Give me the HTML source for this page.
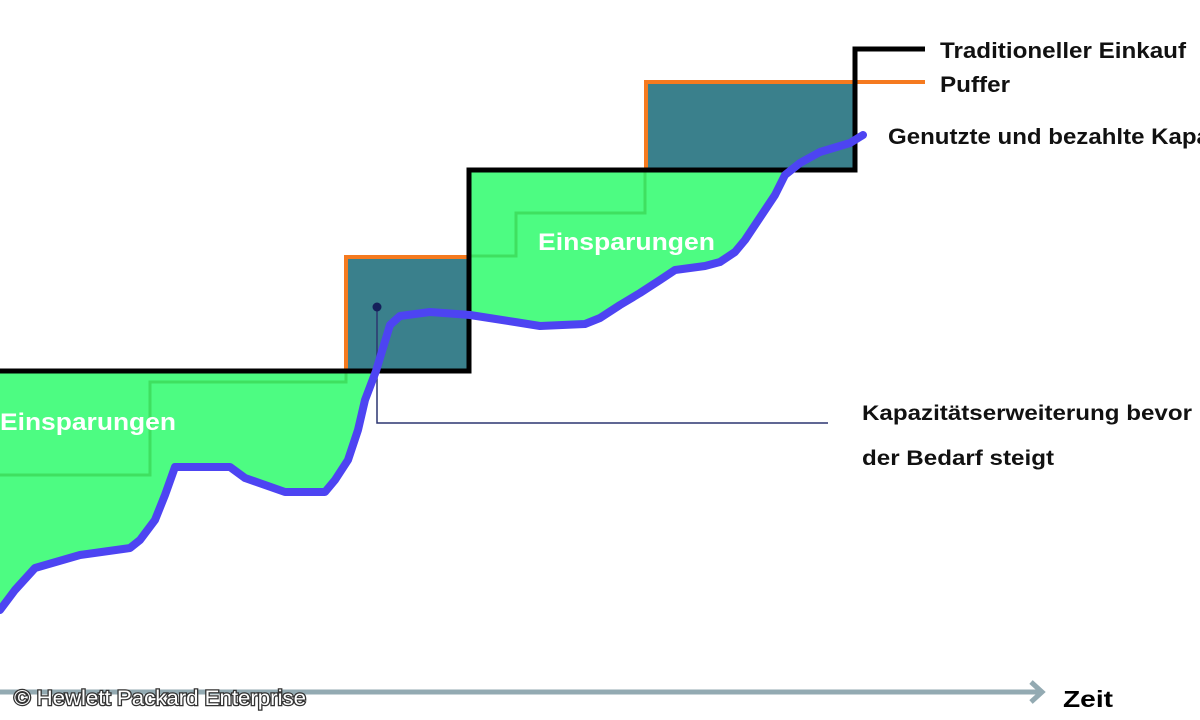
<!DOCTYPE html>
<html><head><meta charset="utf-8"><style>
html,body{margin:0;padding:0;background:#fff;width:1200px;height:720px;overflow:hidden}
svg{display:block}
text{font-family:"Liberation Sans",sans-serif;font-weight:bold}
</style></head><body>
<svg width="1200" height="720" viewBox="0 0 1200 720" xmlns="http://www.w3.org/2000/svg">
<path d="M0,371 L376,371 L365,400 L358,430 L348,460 L335,480 L325,492 L285,492 L245,478 L230,467 L175,467 L165,495 L155,520 L140,540 L130,548 L80,555 L35,568 L15,590 L0,610 Z" fill="#4dfc82"/>
<path d="M469,170 L785,170 L775,195 L765,210 L755,225 L745,240 L735,252 L720,262 L705,266 L675,270 L660,280 L640,293 L620,305 L600,318 L585,324 L540,326 L515,322 L470,315 L469,315 Z" fill="#4dfc82"/>
<path d="M0,475 L150,475 L150,382 L346,382 L346,371" fill="none" stroke="#3fe060" stroke-width="3"/>
<path d="M469,256 L516,256 L516,213 L645,213 L645,170" fill="none" stroke="#3fe060" stroke-width="3"/>
<rect x="347" y="258" width="122" height="113" fill="#3a808c"/>
<rect x="647" y="84" width="208" height="86" fill="#3a808c"/>
<path d="M346,371 L346,257 L469,257" fill="none" stroke="#f57a1f" stroke-width="4"/>
<path d="M646,170 L646,82 L925,82" fill="none" stroke="#f57a1f" stroke-width="4"/>
<path d="M0,371 L469,371 L469,170 L855,170 L855,49 L925,49" fill="none" stroke="#000" stroke-width="5"/>
<path d="M377,307 L377,423 L828,423" fill="none" stroke="#2c3570" stroke-width="1.5"/>
<circle cx="377" cy="307" r="4.5" fill="#15205a"/>
<path d="M0,610 L15,590 L35,568 L80,555 L130,548 L140,540 L155,520 L165,495 L175,467 L230,467 L245,478 L285,492 L325,492 L335,480 L348,460 L358,430 L365,400 L376,371 L390,325 L400,316 L430,312 L470,315 L515,322 L540,326 L585,324 L600,318 L620,305 L640,293 L660,280 L675,270 L705,266 L720,262 L735,252 L745,240 L755,225 L765,210 L775,195 L785,175 L800,163 L820,152 L850,143 L863,135" fill="none" stroke="#4d44f2" stroke-width="8" stroke-linejoin="round" stroke-linecap="round"/>
<line x1="0" y1="692" x2="1040" y2="692" stroke="#93aab2" stroke-width="5"/>
<path d="M1031,682 L1042,692 L1031,702" fill="none" stroke="#93aab2" stroke-width="5"/>
<text x="940" y="58" font-size="22" fill="#111" textLength="246" lengthAdjust="spacingAndGlyphs">Traditioneller Einkauf</text>
<text x="940" y="92" font-size="22" fill="#111" textLength="70" lengthAdjust="spacingAndGlyphs">Puffer</text>
<text x="888" y="144" font-size="22" fill="#111" textLength="370" lengthAdjust="spacingAndGlyphs">Genutzte und bezahlte Kapazität</text>
<text x="862" y="420" font-size="21" fill="#111" textLength="330" lengthAdjust="spacingAndGlyphs">Kapazitätserweiterung bevor</text>
<text x="862" y="465" font-size="21" fill="#111" textLength="192" lengthAdjust="spacingAndGlyphs">der Bedarf steigt</text>
<text x="0" y="430" font-size="24" fill="#fff" textLength="176" lengthAdjust="spacingAndGlyphs">Einsparungen</text>
<text x="538" y="250" font-size="24" fill="#fff" textLength="177" lengthAdjust="spacingAndGlyphs">Einsparungen</text>
<text x="1063" y="707" font-size="23" fill="#000" textLength="50" lengthAdjust="spacingAndGlyphs">Zeit</text>
<text x="14" y="705" font-size="21" fill="#fff" stroke="#333" stroke-width="2.5" paint-order="stroke" style="font-weight:normal" textLength="292" lengthAdjust="spacingAndGlyphs">© Hewlett Packard Enterprise</text>
</svg>
</body></html>
